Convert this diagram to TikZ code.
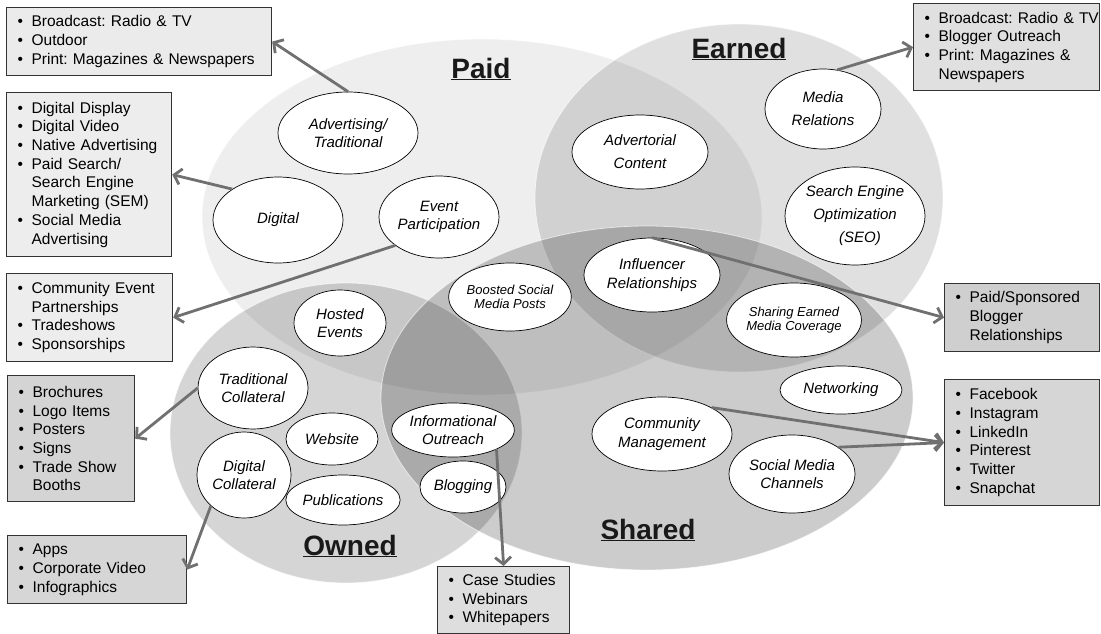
\documentclass[tikz,border=0pt]{standalone}
\usepackage{fontspec}
\setmainfont{Liberation Sans}
\usetikzlibrary{shapes,arrows.meta,positioning}
\frenchspacing
\def\bulletsep{14pt}
\newcommand{\bitem}[1]{\makebox[\bulletsep][l]{\textbullet}\mbox{#1}}
\newcommand{\bcont}[1]{\hspace*{\bulletsep}\mbox{#1}}

\begin{document}
\begin{tikzpicture}[x=1pt,y=-1pt]
    \tikzstyle{venn set}=[ellipse,inner sep=0pt,fill=black,draw=white,line width=0.8pt,draw opacity=0.6]
    \tikzstyle{set label}=[text=black!90,font=\bfseries\fontsize{28}{30}\selectfont]
    \tikzstyle{tactic}=[ellipse,draw=black,line width=0.7pt,fill=white,inner sep=0pt,align=center,
        font=\itshape\fontsize{15}{18.5}\selectfont]
    \tikzstyle{small tactic}=[tactic,font=\itshape\fontsize{13}{14.5}\selectfont]
    \tikzstyle{wide tactic}=[tactic,font=\itshape\fontsize{15}{23}\selectfont]
    \tikzstyle{list box}=[rectangle,draw=black!80,line width=1.2pt,anchor=north west,inner xsep=11pt,
        inner ysep=0pt,align=left,font=\fontsize{15.5}{18.7}\selectfont]
    \tikzstyle{link}=[draw=black!56,line width=2.8pt,-{Straight Barb[length=7pt,width=16pt]}]

    \useasboundingbox (0,0) rectangle (1101,634);

    % The four big sets
    \node[venn set,fill opacity=0.065,minimum width=560pt,minimum height=356pt] (paid) at (482,217) {};
    \node[venn set,fill opacity=0.12,minimum width=408pt,minimum height=348pt] (earned) at (739,198) {};
    \node[venn set,fill opacity=0.165,minimum width=352pt,minimum height=300pt] (owned) at (346,433) {};
    \node[venn set,fill opacity=0.2,minimum width=532pt,minimum height=344pt] (shared) at (647,398) {};

    \node[set label] (paidlbl) at (481,69) {\underline{Paid}};
    \node[set label] (earnedlbl) at (739,49) {\underline{Earned}};
    \node[set label] (ownedlbl) at (350,546) {\underline{Owned}};
    \node[set label] (sharedlbl) at (648,530) {\underline{Shared}};

    % Paid tactics
    \node[tactic,minimum width=140pt,minimum height=82pt] (adv) at (348,133) {Advertising/\\Traditional};
    \node[tactic,minimum width=130pt,minimum height=86pt] (digital) at (278,220) {Digital};
    \node[tactic,minimum width=120pt,minimum height=82pt] (event) at (439,217) {Event\\Participation};
    \node[tactic,minimum width=92pt,minimum height=66pt] (hosted) at (340,323) {Hosted\\Events};
    \node[small tactic,minimum width=104pt,minimum height=68pt] (boosted) at (510,297) {Boosted Social\\Media Posts};

    % Earned tactics
    \node[wide tactic,minimum width=136pt,minimum height=74pt] (advert) at (640,152) {Advertorial\\Content};
    \node[wide tactic,minimum width=116pt,minimum height=80pt] (media) at (823,109) {Media\\Relations};
    \node[wide tactic,minimum width=140pt,minimum height=98pt] (seo) at (855,216) {Search Engine\\Optimization\\\hspace*{10pt}(SEO)};
    \node[tactic,minimum width=136pt,minimum height=74pt] (infl) at (652,275) {Influencer\\Relationships};
    \node[small tactic,minimum width=122pt,minimum height=74pt] (sharing) at (794,320) {Sharing Earned\\Media Coverage};

    % Shared tactics
    \node[tactic,minimum width=122pt,minimum height=48pt] (network) at (841,390) {Networking};
    \node[tactic,minimum width=140pt,minimum height=74pt] (comm) at (662,434) {Community\\Management};
    \node[tactic,minimum width=126pt,minimum height=78pt] (social) at (792,474) {Social Media\\Channels};

    % Owned tactics
    \node[tactic,minimum width=110pt,minimum height=82pt] (tradcoll) at (253,388) {Traditional\\Collateral};
    \node[tactic,minimum width=92pt,minimum height=52pt] (website) at (332,439) {Website};
    \node[tactic,minimum width=94pt,minimum height=86pt] (digcoll) at (244,475) {Digital\\Collateral};
    \node[tactic,minimum width=94pt,minimum height=50pt] (pubs) at (343,500) {Publications};
    \node[tactic,minimum width=122pt,minimum height=54pt] (info) at (453,430) {Informational\\Outreach};
    \node[tactic,minimum width=86pt,minimum height=52pt] (blog) at (463,487) {Blogging};

    % Example lists
    \node[list box,fill=black!8,text width=243pt,minimum height=68pt] (paidtrad) at (6,7)
        {\bitem{Broadcast: Radio \& TV}\\\bitem{Outdoor}\\\bitem{Print: Magazines \& Newspapers}};
    \node[list box,fill=black!7,text width=143pt,minimum height=164pt] (paiddig) at (6,92)
        {\bitem{Digital Display}\\\bitem{Digital Video}\\\bitem{Native Advertising}\\\bitem{Paid Search/}\\
         \bcont{Search Engine}\\\bcont{Marketing (SEM)}\\\bitem{Social Media}\\\bcont{Advertising}};
    \node[list box,fill=black!7,text width=144pt,minimum height=88pt] (paidevt) at (6,273)
        {\bitem{Community Event}\\\bcont{Partnerships}\\\bitem{Tradeshows}\\\bitem{Sponsorships}};
    \node[list box,fill=black!17,text width=105pt,minimum height=126pt] (ownprint) at (7,375)
        {\bitem{Brochures}\\\bitem{Logo Items}\\\bitem{Posters}\\\bitem{Signs}\\\bitem{Trade Show}\\\bcont{Booths}};
    \node[list box,fill=black!16,text width=157pt,minimum height=68pt] (owndig) at (7,535)
        {\bitem{Apps}\\\bitem{Corporate Video}\\\bitem{Infographics}};
    \node[list box,fill=black!13,text width=110pt,minimum height=67pt] (owninfo) at (437,566)
        {\bitem{Case Studies}\\\bitem{Webinars}\\\bitem{Whitepapers}};
    \node[list box,fill=black!12,text width=164pt,minimum height=87pt] (earnmedia) at (913,3)
        {\bitem{Broadcast: Radio \& TV}\\\bitem{Blogger Outreach}\\\bitem{Print: Magazines \&}\\\bcont{Newspapers}};
    \node[list box,fill=black!19,text width=133pt,minimum height=68pt] (earninfl) at (944,283)
        {\bitem{Paid/Sponsored}\\\bcont{Blogger}\\\bcont{Relationships}};
    \node[list box,fill=black!16,text width=133pt,minimum height=126pt] (sharesoc) at (944,379)
        {\bitem{Facebook}\\\bitem{Instagram}\\\bitem{LinkedIn}\\\bitem{Pinterest}\\\bitem{Twitter}\\\bitem{Snapchat}};

    % Connect tactics to their examples
    \foreach \from/\to in {adv.north/paidtrad.east, digital.146/paiddig.east, event.213/paidevt.east,
        tradcoll.west/ownprint.east, digcoll.223/owndig.east, info.336/owninfo.north,
        media.70/earnmedia.west, infl.north/earninfl.west, comm.28/sharesoc.west, social.30/sharesoc.west}
        \draw[link] (\from) -- (\to);
\end{tikzpicture}
\end{document}
